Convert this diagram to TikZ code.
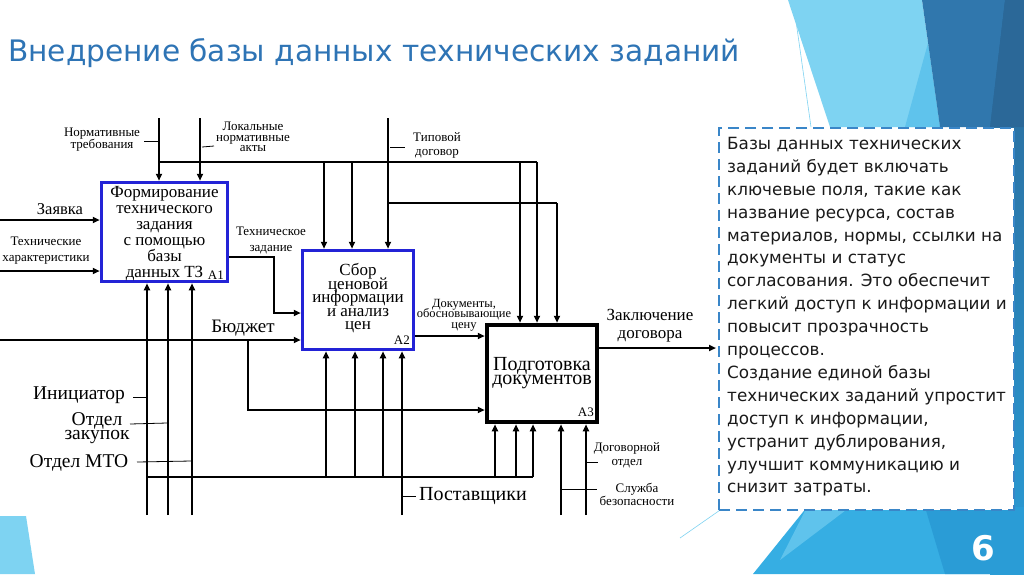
\documentclass[tikz,border=0pt]{standalone}
\usepackage{fontspec}
\setmainfont{Liberation Serif}
\newfontfamily\sansf{DejaVu Sans}
\usetikzlibrary{arrows.meta}
\definecolor{titleblue}{HTML}{2E74B5}
\definecolor{idefblue}{HTML}{2323D6}
\definecolor{cyanA}{HTML}{7ED3F2}
\definecolor{cyanB}{HTML}{5FC3EC}
\definecolor{steelA}{HTML}{3077AD}
\definecolor{steelB}{HTML}{2B6898}
\definecolor{brightA}{HTML}{36AEE3}
\definecolor{brightB}{HTML}{2A9CD6}
\definecolor{dashblue}{HTML}{3A86C8}
\definecolor{textdark}{HTML}{1A1A1A}
\tikzset{
  ln/.style={line width=1.8pt},
  arr/.style={line width=1.8pt,-{Triangle[length=7pt,width=6pt]}},
  lead/.style={line width=0.8pt},
  lab/.style={align=center,inner sep=0pt},
  bluebox/.style={draw=idefblue,line width=3.5pt,fill=white,inner sep=0pt},
}
\begin{document}
\lineskiplimit=-100pt
\begin{tikzpicture}[x=1pt,y=-1pt]
\useasboundingbox (0,0) rectangle (1024,574);
\fill[white] (0,0) rectangle (1024,574);
% background decoration
\shade[top color=steelB,bottom color=brightB] (990,0) rectangle (1024,574);
\fill[cyanA] (788,0) -- (922,0) -- (940,127) -- (830,127) -- cycle;
\fill[cyanB] (928,43) -- (940,127) -- (905,127) -- cycle;
\fill[steelA] (922,0) -- (1005,0) -- (990,127) -- (940,127) -- cycle;
\fill[steelB] (1005,0) -- (1024,0) -- (1024,127) -- (990,127) -- cycle;
\draw[cyanA,line width=0.6pt] (793,0) -- (811,127);
\fill[brightA] (753,574) -- (807,507) -- (1024,507) -- (1024,574) -- cycle;
\fill[cyanB] (807,507) -- (850,507) -- (780,560) -- cycle;
\fill[brightB] (925,507) -- (1024,507) -- (1024,574) -- (945,574) -- cycle;
\draw[cyanA,line width=0.6pt] (680,538) -- (723,508);
\fill[cyanA] (0,516) -- (26,516) -- (35,574) -- (0,574) -- cycle;

% title
\node[anchor=base west,text=titleblue,font=\sansf\fontsize{29.6}{29.6}\selectfont,inner sep=0pt] (title) at (8,61) {Внедрение базы данных технических заданий};

% text box
\node[draw=dashblue,dash pattern=on 11pt off 6pt,line width=2pt,fill=white,minimum width=295pt,minimum height=382pt,anchor=north west,inner sep=0pt] (tb) at (718,127) {};
\node[anchor=north west,inner sep=0pt,align=left,text=textdark,font=\sansf\fontsize{16.8}{22.9}\selectfont] (tbt) at (727,137) {Базы данных технических\\заданий будет включать\\ключевые поля, такие как\\название ресурса, состав\\материалов, нормы, ссылки на\\документы и статус\\согласования. Это обеспечит\\легкий доступ к информации и\\повысит прозрачность\\процессов.\\Создание единой базы\\технических заданий упростит\\доступ к информации,\\устранит дублирования,\\улучшит коммуникацию и\\снизит затраты.};
\node[text=white,font=\sansf\bfseries\fontsize{34}{34}\selectfont] (pnum) at (983,548) {6};

% IDEF0 boxes
\node[bluebox,minimum width=126pt,minimum height=99pt] (A1) at (164.5,232) {};
\node[bluebox,minimum width=111pt,minimum height=99pt] (A2) at (358,300) {};
\node[draw=black,line width=4.5pt,fill=white,inner sep=0pt,minimum width=110pt,minimum height=97pt] (A3) at (542,373.5) {};
\node[lab,font=\fontsize{17}{16}\selectfont] (A1t) at ([yshift=-2pt]A1.center) {Формирование\\технического\\задания\\с помощью\\базы\\данных ТЗ};
\node[lab,font=\fontsize{17}{13.5}\selectfont] (A2t) at ([yshift=1.5pt]A2.center) {Сбор\\ценовой\\информации\\и анализ\\цен};
\node[lab,font=\fontsize{20}{14}\selectfont] (A3t) at (A3.center) {Подготовка\\документов};
\node[font=\fontsize{13}{13}\selectfont,anchor=base east,inner sep=0pt] (A1n) at (224,279) {A1};
\node[font=\fontsize{13}{13}\selectfont,anchor=base east,inner sep=0pt] (A2n) at (410,344) {A2};
\node[font=\fontsize{13}{13}\selectfont,anchor=base east,inner sep=0pt] (A3n) at (594,416) {A3};

% coordinates
\coordinate (c1) at (159,118);
\coordinate (c2) at (200,118);
\coordinate (c3) at (388,118);
\coordinate (busL) at (159,162);
\coordinate (busR) at (537,162);
\coordinate (bus2L) at (388,203);
\coordinate (bus2R) at (557,203);
\coordinate (inZ) at (0,220);
\coordinate (inT) at (0,271);
\coordinate (inB) at (0,340);
\coordinate (brB) at (248,340);
\coordinate (outE) at (716,348);
\coordinate (m1) at (147,515);
\coordinate (m2) at (168,515);
\coordinate (m3) at (192,515);
\coordinate (mP) at (402,515);
\coordinate (mD) at (586,515);
\coordinate (mS) at (561,515);
\coordinate (bus3L) at (147,477);
\coordinate (bus3R) at (533,477);

% controls
\draw[arr] (c1) -- (c1 |- A1.north);
\draw[arr] (c2) -- (c2 |- A1.north);
\draw[ln] (busL) -- (busR);
\draw[arr] (324,162) -- (324,162 |- A2.north);
\draw[arr] (352,162) -- (352,162 |- A2.north);
\draw[arr] (520,162) -- (520,162 |- A3.north);
\draw[arr] (busR) -- (busR |- A3.north);
\draw[arr] (c3) -- (c3 |- A2.north);
\draw[ln] (bus2L) -- (bus2R);
\draw[arr] (bus2R) -- (bus2R |- A3.north);

% inputs / outputs
\draw[arr] (inZ) -- (inZ -| A1.west);
\draw[arr] (inT) -- (inT -| A1.west);
\draw[arr] (A1.east |- 0,257) -- (274,257) -- (274,313) -- (A2.west |- 0,313);
\draw[arr] (inB) -- (inB -| A2.west);
\draw[arr] (brB) -- (248,410) -- (A3.west |- 0,410);
\draw[arr] (A2.east |- 0,336) -- (A3.west |- 0,336);
\draw[arr] (A3.east |- outE) -- (outE);

% mechanisms
\draw[arr] (m1) -- (m1 |- A1.south);
\draw[arr] (m2) -- (m2 |- A1.south);
\draw[arr] (m3) -- (m3 |- A1.south);
\draw[ln] (bus3L) -- (bus3R);
\draw[arr] (326,477) -- (326,477 |- A2.south);
\draw[arr] (355,477) -- (355,477 |- A2.south);
\draw[arr] (383,477) -- (383,477 |- A2.south);
\draw[arr] (mP) -- (mP |- A2.south);
\draw[arr] (495,477) -- (495,477 |- A3.south);
\draw[arr] (516,477) -- (516,477 |- A3.south);
\draw[arr] (bus3R) -- (bus3R |- A3.south);
\draw[arr] (mS) -- (mS |- A3.south);
\draw[arr] (mD) -- (mD |- A3.south);

% leader lines
\draw[lead] (144,141) -- (158,141);
\draw[lead] (202,147) -- (214,146);
\draw[lead] (390,147) -- (405,147);
\draw[lead] (133,397) -- (146,397);
\draw[lead] (130,424) -- (167,423);
\draw[lead] (137,462) -- (191,461);
\draw[lead] (403,496) -- (416,496);
\draw[lead] (587,462) -- (598,462);
\draw[lead] (562,489) -- (597,489);

% labels
\node[lab,font=\fontsize{13}{12}\selectfont] (lNorm) at (102,140) {Нормативные\\требования};
\node[lab,font=\fontsize{13}{10.5}\selectfont] (lLok) at (253,137) {Локальные\\нормативные\\акты};
\node[lab,font=\fontsize{13}{14}\selectfont] (lTip) at (437,145) {Типовой\\договор};
\node[lab,font=\fontsize{16.5}{16.5}\selectfont] (lZ) at (60,209) {Заявка};
\node[lab,font=\fontsize{13}{16}\selectfont] (lTH) at (46,251) {Технические\\характеристики};
\node[lab,font=\fontsize{13}{16}\selectfont] (lTZ) at (271,240) {Техническое\\задание};
\node[lab,font=\fontsize{19}{19}\selectfont] (lB) at (243,328) {Бюджет};
\node[lab,font=\fontsize{12.5}{10.5}\selectfont] (lDoc) at (464,315) {Документы,\\обосновывающие\\цену};
\node[lab,font=\fontsize{17}{18}\selectfont] (lOut) at (650,326) {Заключение\\договора};
\node[lab,font=\fontsize{19.5}{19.5}\selectfont] (lIn) at (79,395) {Инициатор};
\node[lab,font=\fontsize{19.5}{14}\selectfont] (lZak) at (97,428) {Отдел\\закупок};
\node[lab,font=\fontsize{19.5}{19.5}\selectfont] (lMTO) at (79,463) {Отдел МТО};
\node[lab,font=\fontsize{20}{20}\selectfont] (lPost) at (473,496) {Поставщики};
\node[lab,font=\fontsize{13}{14}\selectfont] (lDog) at (627,455) {Договорной\\отдел};
\node[lab,font=\fontsize{13}{13}\selectfont] (lSl) at (637,494) {Служба\\безопасности};
\end{tikzpicture}
\end{document}
